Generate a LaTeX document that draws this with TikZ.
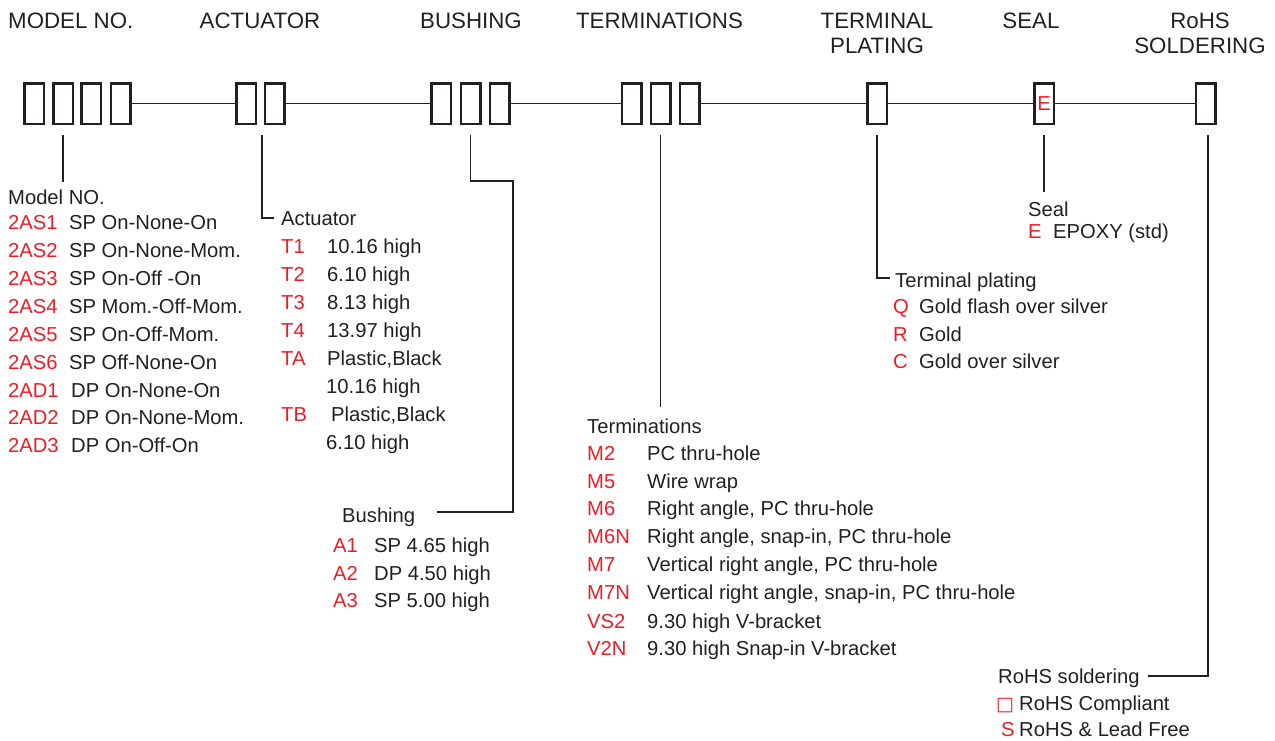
\documentclass[tikz,border=0pt]{standalone}
\usepackage{fontspec}
\setmainfont{Liberation Sans}
\newfontfamily\symfont{DejaVu Sans}
\definecolor{ink}{HTML}{231F20}
\definecolor{codered}{HTML}{ED1C24}
\begin{document}
\begin{tikzpicture}[x=1pt,y=-1pt,
  cell/.style={draw=ink,line width=2.5pt,minimum width=19.5pt,minimum height=40.5pt,inner sep=0pt,font=\fontsize{20.2}{24}\selectfont},
  link/.style={draw=ink,line width=1.9pt},
  lead/.style={draw=ink,line width=1.6pt},
  hdr/.style={anchor=base,inner sep=0pt,text=ink,align=center,font=\fontsize{22.3}{25}\selectfont},
  body/.style={anchor=base west,inner sep=0pt,text=ink,font=\fontsize{20.2}{24}\selectfont},
  code/.style={body,text=codered}]
\useasboundingbox (0,0) rectangle (1275,740);

% headers
\node[hdr,anchor=base west] (h1) at (8,28) {MODEL NO.};
\node[hdr] (h2) at (260,28) {ACTUATOR};
\node[hdr] (h3) at (471,28) {BUSHING};
\node[hdr] (h4) at (659.5,28) {TERMINATIONS};
\node[hdr] (h5) at (877,53) {TERMINAL\\PLATING};
\node[hdr] (h6) at (1031,28) {SEAL};
\node[hdr] (h7) at (1200,53) {RoHS\\SOLDERING};

% boxes
\node[cell] (m1) at (34,103.5) {};
\node[cell] (m2) at (63,103.5) {};
\node[cell] (m3) at (91,103.5) {};
\node[cell] (m4) at (120.5,103.5) {};
\node[cell] (a1) at (246,103.5) {};
\node[cell] (a2) at (274.5,103.5) {};
\node[cell] (b1) at (441,103.5) {};
\node[cell] (b2) at (470.5,103.5) {};
\node[cell] (b3) at (499.5,103.5) {};
\node[cell] (t1) at (631.5,103.5) {};
\node[cell] (t2) at (660.5,103.5) {};
\node[cell] (t3) at (689.5,103.5) {};
\node[cell] (p) at (877,103.5) {};
\node[cell,text=codered] (s) at (1044,103.5) {E};
\node[cell] (r) at (1205.5,103.5) {};

% links
\draw[link] (m4.east) -- (a1.west);
\draw[link] (a2.east) -- (b1.west);
\draw[link] (b3.east) -- (t1.west);
\draw[link] (t3.east) -- (p.west);
\draw[link] (p.east) -- (s.west);
\draw[link] (s.east) -- (r.west);

% leader end points
\coordinate (mL) at (63,182);
\coordinate (aL) at (274,218);
\coordinate (bK) at (513,181);
\coordinate (bL) at (437,512);
\coordinate (tL) at (660,407);
\coordinate (pL) at (890,278);
\coordinate (sL) at (1044,192);
\coordinate (rL) at (1148,676);

\draw[lead] ([yshift=-10pt]m2.south) -- (m2.south |- mL);
\draw[lead] ([xshift=-12.5pt,yshift=-10pt]a2.south) |- (aL);
\draw[lead] ([yshift=-10pt]b2.south) |- (bK) |- (bL);
\draw[lead] ([yshift=-10pt]t2.south) -- (t2.south |- tL);
\draw[lead] ([yshift=-10pt]p.south) |- (pL);
\draw[lead] ([yshift=-10pt]s.south) -- (s.south |- sL);
\draw[lead] ([xshift=2.5pt,yshift=-10pt]r.south) |- (rL);

% model list
\node[body] (mt) at (8,204) {Model NO.};
\foreach \c/\d/\x/\y [count=\i] in {2AS1/SP On-None-On/69/229, 2AS2/SP On-None-Mom./69/257, 2AS3/SP On-Off -On/69/285, 2AS4/SP Mom.-Off-Mom./69/313, 2AS5/SP On-Off-Mom./69/341, 2AS6/SP Off-None-On/69/369, 2AD1/DP On-None-On/71/397, 2AD2/DP On-None-Mom./71/424, 2AD3/DP On-Off-On/71/452}{
  \node[code] (mc\i) at (8,\y) {\c};
  \node[body] (md\i) at (\x,\y) {\d};
}

% actuator list
\node[body] (at) at (281,225) {Actuator};
\foreach \c/\d/\y [count=\i] in {T1/10.16 high/253, T2/6.10 high/281, T3/8.13 high/309, T4/13.97 high/337, TA/{Plastic,Black}/365}{
  \node[code] (ac\i) at (281,\y) {\c};
  \node[body] (ad\i) at (327,\y) {\d};
}
\node[body] (ad6) at (326,393) {10.16 high};
\node[code] (ac7) at (281,421) {TB};
\node[body] (ad7) at (331,421) {Plastic,Black};
\node[body] (ad8) at (326,449) {6.10 high};

% bushing list
\node[body] (bt) at (342,522) {Bushing};
\foreach \c/\d/\y [count=\i] in {A1/SP 4.65 high/552, A2/DP 4.50 high/580, A3/SP 5.00 high/607}{
  \node[code] (bc\i) at (333,\y) {\c};
  \node[body] (bd\i) at (374,\y) {\d};
}

% terminations list
\node[body] (tt) at (587,433) {Terminations};
\foreach \c/\d/\y [count=\i] in {M2/PC thru-hole/460, M5/Wire wrap/488, M6/{Right angle, PC thru-hole}/515, M6N/{Right angle, snap-in, PC thru-hole}/543, M7/{Vertical right angle, PC thru-hole}/571, M7N/{Vertical right angle, snap-in, PC thru-hole}/599, VS2/9.30 high V-bracket/628, V2N/9.30 high Snap-in V-bracket/655}{
  \node[code] (tc\i) at (587,\y) {\c};
  \node[body] (td\i) at (647,\y) {\d};
}

% plating list
\node[body] (pt) at (895,287) {Terminal plating};
\foreach \c/\d/\y [count=\i] in {Q/Gold flash over silver/313, R/Gold/341, C/Gold over silver/368}{
  \node[code] (pc\i) at (893,\y) {\c};
  \node[body] (pd\i) at (919,\y) {\d};
}

% seal list
\node[body] (st) at (1028,216) {Seal};
\node[code] (sc1) at (1028,238) {E};
\node[body] (sd1) at (1053,238) {EPOXY (std)};

% rohs list
\node[body] (rt) at (998,683) {RoHS soldering};
\node[code,font=\symfont\fontsize{19}{24}\selectfont] (rc1) at (996,710) {□};
\node[body] (rd1) at (1019,710) {RoHS Compliant};
\node[code] (rc2) at (1001,736) {S};
\node[body] (rd2) at (1019,736) {RoHS \& Lead Free};
\end{tikzpicture}
\end{document}
